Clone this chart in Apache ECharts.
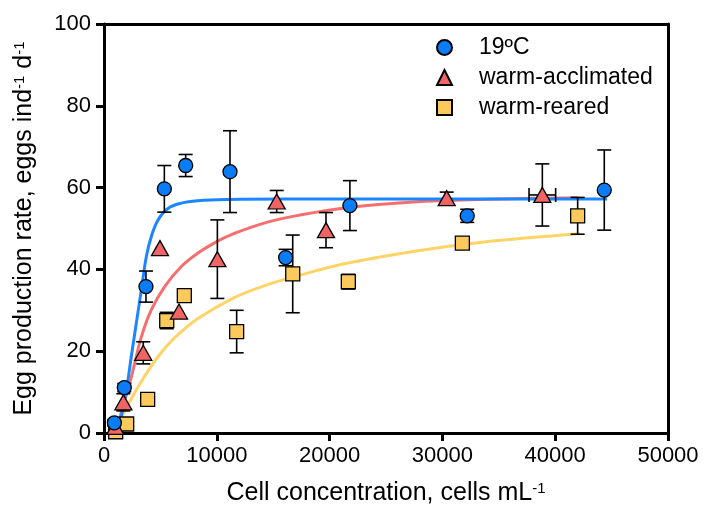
<!DOCTYPE html>
<html>
<head>
<meta charset="utf-8">
<script src="https://cdn.jsdelivr.net/npm/echarts@6/dist/echarts.min.js"></script>
<style>
  html, body { margin: 0; padding: 0; background: #fff; }
  #chart { width: 704px; height: 512px; }
</style>
</head>
<body>
<div id="chart"></div>
<script>
// Egg production rate vs. cell concentration for three temperature groups

const FONT = '"Liberation Sans", Arial, sans-serif';

const seriesNames = ['19ºC', 'warm-acclimated', 'warm-reared'];

// 19ºC observations (mean ± error)
const coldX    = [920, 1800, 3720, 5350, 7240, 11170, 16100, 21800, 32200, 44350];
const coldY    = [2.5, 11.1, 35.8, 59.7, 65.4, 63.9, 42.9, 55.6, 53.1, 59.4];
const coldYErr = [0.8, 1.0, 3.8, 5.7, 2.7, 10.0, 2.0, 6.1, 1.6, 9.8];
const coldXErr = [0, 0, 0, 0, 0, 0, 0, 0, 0, 0];

// warm-acclimated observations
const acclX    = [1000, 1715, 3480, 4960, 6650, 10050, 15310, 19680, 30380, 38860];
const acclY    = [1.5, 7.5, 19.6, 45.2, 29.7, 42.5, 56.6, 49.6, 57.4, 58.2];
const acclYErr = [0, 2.1, 2.7, 0, 0, 9.6, 2.7, 4.3, 1.5, 7.6];
const acclXErr = [0, 0, 0, 0, 0, 0, 0, 0, 0, 1180];

// warm-reared observations
const rearX    = [1035, 2010, 3870, 5560, 7120, 11760, 16730, 21660, 31770, 41990];
const rearY    = [0.3, 2.2, 8.2, 27.5, 33.6, 24.8, 38.9, 37.0, 46.4, 53.1];
const rearYErr = [0, 0, 0, 2.0, 0, 5.2, 9.5, 1.8, 0, 4.5];
const rearXErr = [0, 0, 0, 0, 0, 0, 0, 0, 0, 0];

// fitted response curves
const coldFitX = [1000, 1390, 1980, 2420, 2860, 3310, 3750, 4190, 4790, 5670, 6850, 8330, 11000, 16000, 25000, 35000, 44600];
const coldFitY = [0, 2.4, 10.5, 18.7, 26.8, 35.0, 43.1, 48.0, 52.1, 54.9, 56.2, 56.8, 57.1, 57.2, 57.2, 57.2, 57.2];

const acclFitX = [1000, 1390, 1680, 2130, 2720, 3310, 4190, 5380, 6850, 8330, 9990, 11460, 14420, 17380, 21510, 27420, 33330, 42000];
const acclFitY = [0.5, 3.5, 6.8, 10.5, 17.0, 23.5, 30.1, 35.8, 40.7, 44.0, 46.8, 48.7, 51.5, 53.3, 55.1, 56.5, 57.1, 57.5];

const rearFitX = [1000, 1680, 2130, 3310, 4790, 6270, 8330, 11460, 14420, 17380, 21510, 27420, 33330, 42200];
const rearFitY = [1.0, 4.5, 6.9, 12.6, 18.7, 23.3, 28.0, 33.0, 36.2, 38.6, 41.5, 44.4, 46.6, 48.7];

const xTicks = { min: 0, max: 50000, interval: 10000 };
const yTicks = { min: 0, max: 100, interval: 20 };

const colors = {
  cold: '#0a7cf5', coldLine: '#1a86ff',
  accl: '#f06464', acclLine: '#f76e6e',
  rear: '#fcc95c', rearLine: '#ffd466'
};

const zip = (xs, ys) => xs.map((x, i) => [x, ys[i]]);

function errorSeries(xs, ys, yErr, xErr) {
  return {
    type: 'custom',
    name: 'err',
    z: 3,
    silent: true,
    renderItem: function (params, api) {
      const x = api.value(0), y = api.value(1), ey = api.value(2), ex = api.value(3);
      const style = { stroke: '#000', lineWidth: 1.6 };
      const cap = 7;
      const kids = [];
      if (ey > 0) {
        const t = api.coord([x, y + ey]);
        const b = api.coord([x, y - ey]);
        kids.push({ type: 'line', shape: { x1: t[0], y1: t[1], x2: b[0], y2: b[1] }, style });
        kids.push({ type: 'line', shape: { x1: t[0] - cap, y1: t[1], x2: t[0] + cap, y2: t[1] }, style });
        kids.push({ type: 'line', shape: { x1: b[0] - cap, y1: b[1], x2: b[0] + cap, y2: b[1] }, style });
      }
      if (ex > 0) {
        const l = api.coord([x - ex, y]);
        const r = api.coord([x + ex, y]);
        kids.push({ type: 'line', shape: { x1: l[0], y1: l[1], x2: r[0], y2: r[1] }, style });
        kids.push({ type: 'line', shape: { x1: l[0], y1: l[1] - cap, x2: l[0], y2: l[1] + cap }, style });
        kids.push({ type: 'line', shape: { x1: r[0], y1: r[1] - cap, x2: r[0], y2: r[1] + cap }, style });
      }
      return { type: 'group', children: kids };
    },
    data: xs.map((x, i) => [x, ys[i], yErr[i], xErr[i]])
  };
}

function fitSeries(xs, ys, color) {
  return {
    type: 'line',
    name: 'fit',
    data: zip(xs, ys),
    smooth: 0.4,
    showSymbol: false,
    symbol: 'none',
    silent: true,
    z: 2,
    lineStyle: { color: color, width: 3 }
  };
}

function pointSeries(name, xs, ys, symbol, size, color, z) {
  return {
    type: 'scatter',
    name: name,
    data: zip(xs, ys),
    symbol: symbol,
    symbolSize: size,
    z: z,
    itemStyle: { color: color, borderColor: '#000', borderWidth: 1.3, opacity: 1 }
  };
}

const chart = echarts.init(document.getElementById('chart'), null, { renderer: 'canvas' });

const axisLineStyle = { color: '#000', width: 3 };
const supRich = {
  t: { fontSize: 25, color: '#000', fontFamily: FONT },
  s: { fontSize: 15, color: '#000', fontFamily: FONT, verticalAlign: 'top' }
};

chart.setOption({
  animation: false,
  backgroundColor: '#fff',
  grid: { left: 104, right: 36, top: 24, bottom: 79, containLabel: false },
  legend: {
    data: seriesNames,
    orient: 'vertical',
    left: 431,
    top: 31,
    itemWidth: 15,
    itemHeight: 15,
    itemGap: 7,
    selectedMode: false,
    textStyle: { fontSize: 23, color: '#000', fontFamily: FONT, padding: [0, 0, 0, 22] }
  },
  xAxis: [
    {
      type: 'value', position: 'bottom',
      min: xTicks.min, max: xTicks.max, interval: xTicks.interval,
      axisLine: { show: true, onZero: false, lineStyle: axisLineStyle },
      axisTick: { show: true, length: 8, lineStyle: { color: '#000', width: 3 } },
      axisLabel: { color: '#000', fontSize: 22, fontFamily: FONT, margin: 12, formatter: v => String(v) },
      splitLine: { show: false },
      name: '{t|Cell concentration, cells mL}{s|-1}',
      nameLocation: 'middle',
      nameGap: 48,
      nameTextStyle: { rich: supRich }
    },
    {
      type: 'value', position: 'top',
      min: xTicks.min, max: xTicks.max,
      axisLine: { show: true, onZero: false, lineStyle: axisLineStyle },
      axisTick: { show: false }, axisLabel: { show: false }, splitLine: { show: false }
    }
  ],
  yAxis: [
    {
      type: 'value', position: 'left',
      min: yTicks.min, max: yTicks.max, interval: yTicks.interval,
      axisLine: { show: true, onZero: false, lineStyle: axisLineStyle },
      axisTick: { show: true, length: 8, lineStyle: { color: '#000', width: 3 } },
      axisLabel: { color: '#000', fontSize: 22, fontFamily: FONT, margin: 13 },
      splitLine: { show: false },
      name: '{t|Egg production rate, eggs ind}{s|-1}{t| d}{s|-1}',
      nameLocation: 'middle',
      nameRotate: 90,
      nameGap: 67,
      nameTextStyle: { rich: supRich }
    },
    {
      type: 'value', position: 'right',
      min: yTicks.min, max: yTicks.max,
      axisLine: { show: true, onZero: false, lineStyle: axisLineStyle },
      axisTick: { show: false }, axisLabel: { show: false }, splitLine: { show: false }
    }
  ],
  series: [
    fitSeries(rearFitX, rearFitY, colors.rearLine),
    fitSeries(acclFitX, acclFitY, colors.acclLine),
    fitSeries(coldFitX, coldFitY, colors.coldLine),
    errorSeries(rearX, rearY, rearYErr, rearXErr),
    errorSeries(acclX, acclY, acclYErr, acclXErr),
    errorSeries(coldX, coldY, coldYErr, coldXErr),
    pointSeries(seriesNames[2], rearX, rearY, 'rect', 14, colors.rear, 4),
    pointSeries(seriesNames[1], acclX, acclY, 'triangle', [17, 15], colors.accl, 5),
    pointSeries(seriesNames[0], coldX, coldY, 'circle', 14, colors.cold, 6)
  ]
});
</script>
</body>
</html>
